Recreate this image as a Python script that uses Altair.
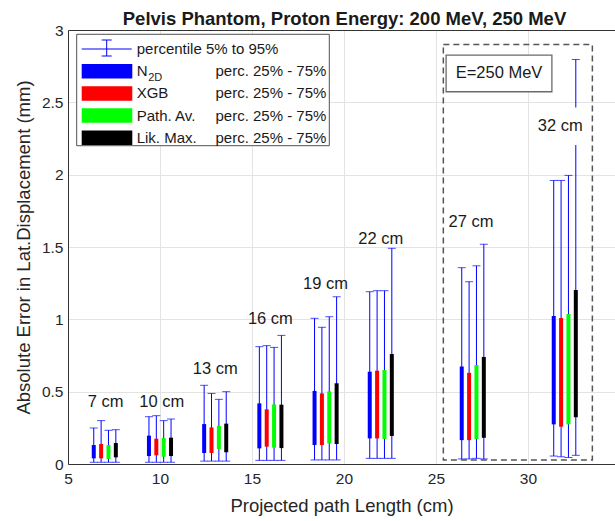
import altair as alt
import pandas as pd

# ---------------- data ----------------
groups = [7, 10, 13, 16, 19, 22, 27, 32]
methods = ["N2D", "XGB", "Path. Av.", "Lik. Max."]
colors = ["#0000FF", "#FF0000", "#00FF00", "#000000"]
offsets = [-0.6, -0.2, 0.2, 0.6]

p95 = {
    "N2D":       [0.249, 0.327, 0.544, 0.811, 1.007, 1.191, 1.357, 1.960],
    "XGB":       [0.300, 0.334, 0.488, 0.818, 0.945, 1.198, 1.260, 1.960],
    "Path. Av.": [0.233, 0.300, 0.447, 0.806, 1.018, 1.198, 1.370, 1.995],
    "Lik. Max.": [0.237, 0.311, 0.500, 0.889, 1.156, 1.491, 1.519, 2.796],
}
p75 = {
    "N2D":       [0.131, 0.196, 0.276, 0.419, 0.505, 0.638, 0.674, 1.023],
    "XGB":       [0.138, 0.175, 0.253, 0.378, 0.488, 0.645, 0.630, 1.009],
    "Path. Av.": [0.131, 0.180, 0.263, 0.412, 0.502, 0.650, 0.684, 1.037],
    "Lik. Max.": [0.145, 0.182, 0.279, 0.410, 0.558, 0.760, 0.740, 1.203],
}
p25 = {
    "N2D":       [0.039, 0.055, 0.076, 0.108, 0.131, 0.177, 0.165, 0.274],
    "XGB":       [0.039, 0.060, 0.076, 0.120, 0.131, 0.177, 0.165, 0.258],
    "Path. Av.": [0.035, 0.050, 0.104, 0.113, 0.143, 0.173, 0.172, 0.274],
    "Lik. Max.": [0.046, 0.055, 0.081, 0.110, 0.138, 0.194, 0.181, 0.323],
}
p5 = {
    "N2D":       [0.012, 0.012, 0.020, 0.025, 0.028, 0.039, 0.035, 0.055],
    "XGB":       [0.012, 0.012, 0.020, 0.025, 0.028, 0.039, 0.035, 0.050],
    "Path. Av.": [0.012, 0.012, 0.020, 0.025, 0.028, 0.039, 0.039, 0.045],
    "Lik. Max.": [0.012, 0.012, 0.020, 0.025, 0.028, 0.039, 0.035, 0.060],
}

label_text = ["7 cm", "10 cm", "13 cm", "16 cm", "19 cm", "22 cm", "27 cm", "32 cm"]
label_x = [7.04, 10.1, 13.0, 16.0, 19.0, 22.0, 26.9, 31.75]
label_y = [0.43, 0.43, 0.656, 1.0, 1.244, 1.553, 1.672, 2.335]

region_x = [25.4, 33.5]
region_y = [0.028, 2.90]
ebox_x = [25.55, 31.3]
ebox_y = [2.573, 2.827]
ebox_text = "E=250 MeV"

title_text = "Pelvis Phantom, Proton Energy: 200 MeV, 250 MeV"
x_title = "Projected path Length (cm)"
y_title = "Absolute Error in Lat.Displacement (mm)"
x_ticks = [5, 10, 15, 20, 25, 30]
y_ticks = [0, 0.5, 1, 1.5, 2, 2.5, 3]

# ---------------- tables ----------------
rows = []
for mi, m in enumerate(methods):
    for gi, g in enumerate(groups):
        rows.append({"method": m, "x": g + offsets[mi],
                     "p5": p5[m][gi], "p25": p25[m][gi],
                     "p75": p75[m][gi], "p95": p95[m][gi]})
df = pd.DataFrame(rows)
labels_df = pd.DataFrame({"text": label_text, "lx": label_x, "ly": label_y})
region_df = pd.DataFrame({"x0": [region_x[0]], "x1": [region_x[1]],
                          "y0": [region_y[0]], "y1": [region_y[1]]})
ebox_df = pd.DataFrame({"x0": [ebox_x[0]], "x1": [ebox_x[1]],
                        "y0": [ebox_y[0]], "y1": [ebox_y[1]], "t": [ebox_text]})
leg_df = pd.DataFrame({"method": methods, "row": [1, 2, 3, 4]})
one = pd.DataFrame({"a": [0]})

FONT = "Liberation Sans"
TXT = "#262626"
xscale = alt.Scale(domain=[5, 34.73], nice=False, zero=False)
yscale = alt.Scale(domain=[0, 3], nice=False)
cscale = alt.Scale(domain=methods, range=colors)

x_axis = alt.Axis(values=x_ticks, ticks=False, grid=True, gridColor="#e3e3e3",
                  domainColor="#333333", labelFontSize=15.5, labelColor=TXT,
                  labelFont=FONT, labelPadding=7, labelFlush=False,
                  title=x_title, titleFontSize=18.5, titleFontWeight="normal",
                  titleFont=FONT, titleColor=TXT, titlePadding=10)
y_axis = alt.Axis(values=y_ticks, format="~g", ticks=False, grid=True,
                  gridColor="#e3e3e3", domainColor="#333333", labelFontSize=15.5,
                  labelColor=TXT, labelFont=FONT, labelPadding=5, labelFlush=False,
                  labelOverlap=False,
                  title=y_title, titleFontSize=18.5, titleFontWeight="normal",
                  titleFont=FONT, titleColor=TXT, titlePadding=8)

whiskers = alt.Chart(df).mark_rule(color="#0000FF", strokeWidth=1).encode(
    x=alt.X("x:Q", scale=xscale, axis=x_axis),
    y=alt.Y("p5:Q", scale=yscale, axis=y_axis),
    y2="p95:Q",
)
cap_top = alt.Chart(df).mark_tick(orient="horizontal", size=8, thickness=1,
                                  color="#0000FF").encode(
    x=alt.X("x:Q", scale=xscale, axis=None),
    y=alt.Y("p95:Q", scale=yscale, axis=None),
)
cap_bot = alt.Chart(df).mark_tick(orient="horizontal", size=8, thickness=1,
                                  color="#0000FF").encode(
    x=alt.X("x:Q", scale=xscale, axis=None),
    y=alt.Y("p5:Q", scale=yscale, axis=None),
)
boxes = alt.Chart(df).mark_rule(strokeWidth=4).encode(
    x=alt.X("x:Q", scale=xscale, axis=None),
    y=alt.Y("p25:Q", scale=yscale, axis=None),
    y2="p75:Q",
    color=alt.Color("method:N", scale=cscale, legend=None),
)
region = alt.Chart(region_df).mark_rect(fillOpacity=0, stroke="#555555",
                                        strokeWidth=1.5, strokeDash=[6, 4]).encode(
    x=alt.X("x0:Q", scale=xscale, axis=None), x2="x1:Q",
    y=alt.Y("y0:Q", scale=yscale, axis=None), y2="y1:Q",
)
ebox = alt.Chart(ebox_df).mark_rect(fill="white", stroke="#6a6a6a",
                                    strokeWidth=1.3).encode(
    x=alt.X("x0:Q", scale=xscale, axis=None), x2="x1:Q",
    y=alt.Y("y0:Q", scale=yscale, axis=None), y2="y1:Q",
)
etext = alt.Chart(ebox_df).mark_text(font=FONT, fontSize=16.5, color="#1a1a1a",
                                     baseline="middle", align="center").transform_calculate(
    cx="(datum.x0 + datum.x1) / 2", cy="(datum.y0 + datum.y1) / 2"
).encode(
    x=alt.X("cx:Q", scale=xscale, axis=None),
    y=alt.Y("cy:Q", scale=yscale, axis=None),
    text="t:N",
)
label_bg = alt.Chart(labels_df).transform_filter(
    "datum.text == '32 cm'"
).transform_calculate(
    bx0="datum.lx - 1.3", bx1="datum.lx + 1.3",
    by0="datum.ly - 0.13", by1="datum.ly + 0.13",
).mark_rect(fill="white").encode(
    x=alt.X("bx0:Q", scale=xscale, axis=None), x2="bx1:Q",
    y=alt.Y("by0:Q", scale=yscale, axis=None), y2="by1:Q",
)
labels = alt.Chart(labels_df).mark_text(font=FONT, fontSize=16.5, color="#1a1a1a",
                                        baseline="middle", align="center").encode(
    x=alt.X("lx:Q", scale=xscale,
            axis=alt.Axis(orient="top", labels=False, ticks=False, grid=False,
                          domain=True, domainColor="#333333", title=None)),
    y=alt.Y("ly:Q", scale=yscale, axis=None),
    text="text:N",
)

# ---------------- legend (pixel layout inside the plot area) ----------------
L0, L1, T0, T1 = 8.7, 261.3, 4.3, 115.7
ROW0, STEP = 19.0, 22.2
leg_box = alt.Chart(one).mark_rect(fill="white", stroke="#262626", strokeWidth=0.8).encode(
    x=alt.value(L0), x2=alt.value(L1), y=alt.value(T0), y2=alt.value(T1))
eb_h = alt.Chart(one).mark_rule(color="#0000FF", strokeWidth=1).encode(
    x=alt.value(13.7), x2=alt.value(63.7), y=alt.value(ROW0))
eb_v = alt.Chart(one).mark_rule(color="#0000FF", strokeWidth=1).encode(
    x=alt.value(38.7), y=alt.value(10), y2=alt.value(26))
eb_c1 = alt.Chart(one).mark_rule(color="#0000FF", strokeWidth=1).encode(
    x=alt.value(33.7), x2=alt.value(43.7), y=alt.value(10))
eb_c2 = alt.Chart(one).mark_rule(color="#0000FF", strokeWidth=1).encode(
    x=alt.value(33.7), x2=alt.value(43.7), y=alt.value(26))
eb_t = alt.Chart(one).mark_text(font=FONT, fontSize=15, color="#1a1a1a", align="left",
                                baseline="middle", text="percentile 5% to 95%").encode(
    x=alt.value(68.7), y=alt.value(ROW0))

leg_base = alt.Chart(leg_df).transform_calculate(
    cy=f"{ROW0} + {STEP} * datum.row",
    ry0=f"{ROW0} + {STEP} * datum.row - 7.25",
    ry1=f"{ROW0} + {STEP} * datum.row + 7.25",
    sy=f"{ROW0} + {STEP} * datum.row + 6.6",
    rx0="13.7", rx1="64.3", tx="68.7", px="147.5", sx="80.2",
    name="datum.method == 'N2D' ? 'N' : datum.method",
)
leg_rect = leg_base.mark_rect().encode(
    x=alt.X("rx0:Q", scale=None, axis=None), x2="rx1:Q",
    y=alt.Y("ry0:Q", scale=None, axis=None), y2="ry1:Q",
    color=alt.Color("method:N", scale=cscale, legend=None),
)
leg_name = leg_base.mark_text(font=FONT, fontSize=15, color="#1a1a1a", align="left",
                              baseline="middle").encode(
    x=alt.X("tx:Q", scale=None, axis=None),
    y=alt.Y("cy:Q", scale=None, axis=None),
    text="name:N",
)
leg_sub = leg_base.transform_filter("datum.method == 'N2D'").mark_text(
    font=FONT, fontSize=11, color="#1a1a1a", align="left", baseline="middle",
    text="2D").encode(
    x=alt.X("sx:Q", scale=None, axis=None),
    y=alt.Y("sy:Q", scale=None, axis=None),
)
leg_perc = leg_base.mark_text(font=FONT, fontSize=15, color="#1a1a1a", align="left",
                              baseline="middle", text="perc. 25% - 75%").encode(
    x=alt.X("px:Q", scale=None, axis=None),
    y=alt.Y("cy:Q", scale=None, axis=None),
)

chart = alt.layer(
    whiskers, cap_top, cap_bot, boxes, region, ebox, etext, label_bg, labels,
    leg_box, eb_h, eb_v, eb_c1, eb_c2, eb_t, leg_rect, leg_name, leg_sub, leg_perc,
).resolve_axis(x="independent", y="independent").properties(
    width=547, height=434,
    padding={"left": 68, "top": 30, "right": 0, "bottom": 57},
    autosize=alt.AutoSizeParams(type="none"),
    title=alt.TitleParams(title_text, font=FONT, fontSize=18.5, fontWeight="bold",
                          color="#1a1a1a", anchor="middle", offset=7, dx=3, dy=12),
).configure_view(stroke=None)

chart.save("out.html", embed_options={"renderer": "svg", "actions": False})
